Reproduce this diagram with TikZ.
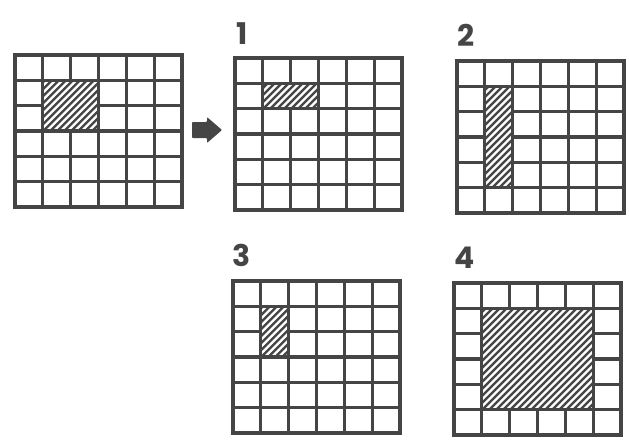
\documentclass[tikz,border=0pt]{standalone}
\usepackage{fontspec}
\newfontfamily\digitfont{Poppins}
\definecolor{inkgray}{HTML}{454545}

% one 6x6 panel: #1,#2 top left corner, #3-#6 hatched cells
\newcommand{\sixgrid}[6]{%
  \begin{scope}[shift={(#1,#2)}, x=1.113cm, y=-1.013cm]
    \foreach \i in {1,...,5} {
      \draw[gridline] (\i,0) -- (\i,6);
      \draw[gridline] (0,\i) -- (6,\i);
    }
    \begin{scope}
      \clip (#3,#4) rectangle (#5,#6);
      \fill[hatchbg] (#3,#4) rectangle (#5,#6);
      \foreach \k in {0,...,45}
        \draw[hatchline] ([xshift=\k*0.28cm-6cm]#3,#6) -- ++(7cm,7cm);
    \end{scope}
    \draw[gridline] (#3,#4) rectangle (#5,#6);
    \draw[gridline] (0,0) rectangle (6,6);
  \end{scope}}

\begin{document}
\begin{tikzpicture}[
    x=0.04cm, y=-0.04cm,
    gridline/.style={draw=inkgray, line width=0.13cm},
    hatchbg/.style={fill=inkgray},
    hatchline/.style={draw=white, line width=0.09cm},
    arrowfill/.style={fill=inkgray, rounded corners=1pt},
    digit/.style={anchor=base west, inner sep=0pt, text=inkgray,
      font=\digitfont\bfseries\fontsize{34}{36}\selectfont}
]
    \useasboundingbox (0,0) rectangle (629,447);

    % Start grid
    \sixgrid{15}{55}{1}{1}{3}{3}

    % Arrow
    \fill[arrowfill] (192,122) -- (207,122) -- (207,117) -- (222,130)
      -- (207,143) -- (207,138) -- (192,138) -- cycle;

    % Labels
    \node (lblone) [digit] at (236,44) {1};
    \node (lbltwo) [digit] at (457,46) {2};
    \node (lblthree) [digit] at (232,266) {3};
    \node (lblfour) [digit] at (454,268) {4};

    % Numbered grids
    \sixgrid{235}{58}{1}{1}{3}{2}
    \sixgrid{457}{61}{1}{1}{2}{5}
    \sixgrid{233}{281}{1}{1}{2}{3}
    \sixgrid{454}{283}{1}{1}{5}{5}

\end{tikzpicture}
\end{document}
